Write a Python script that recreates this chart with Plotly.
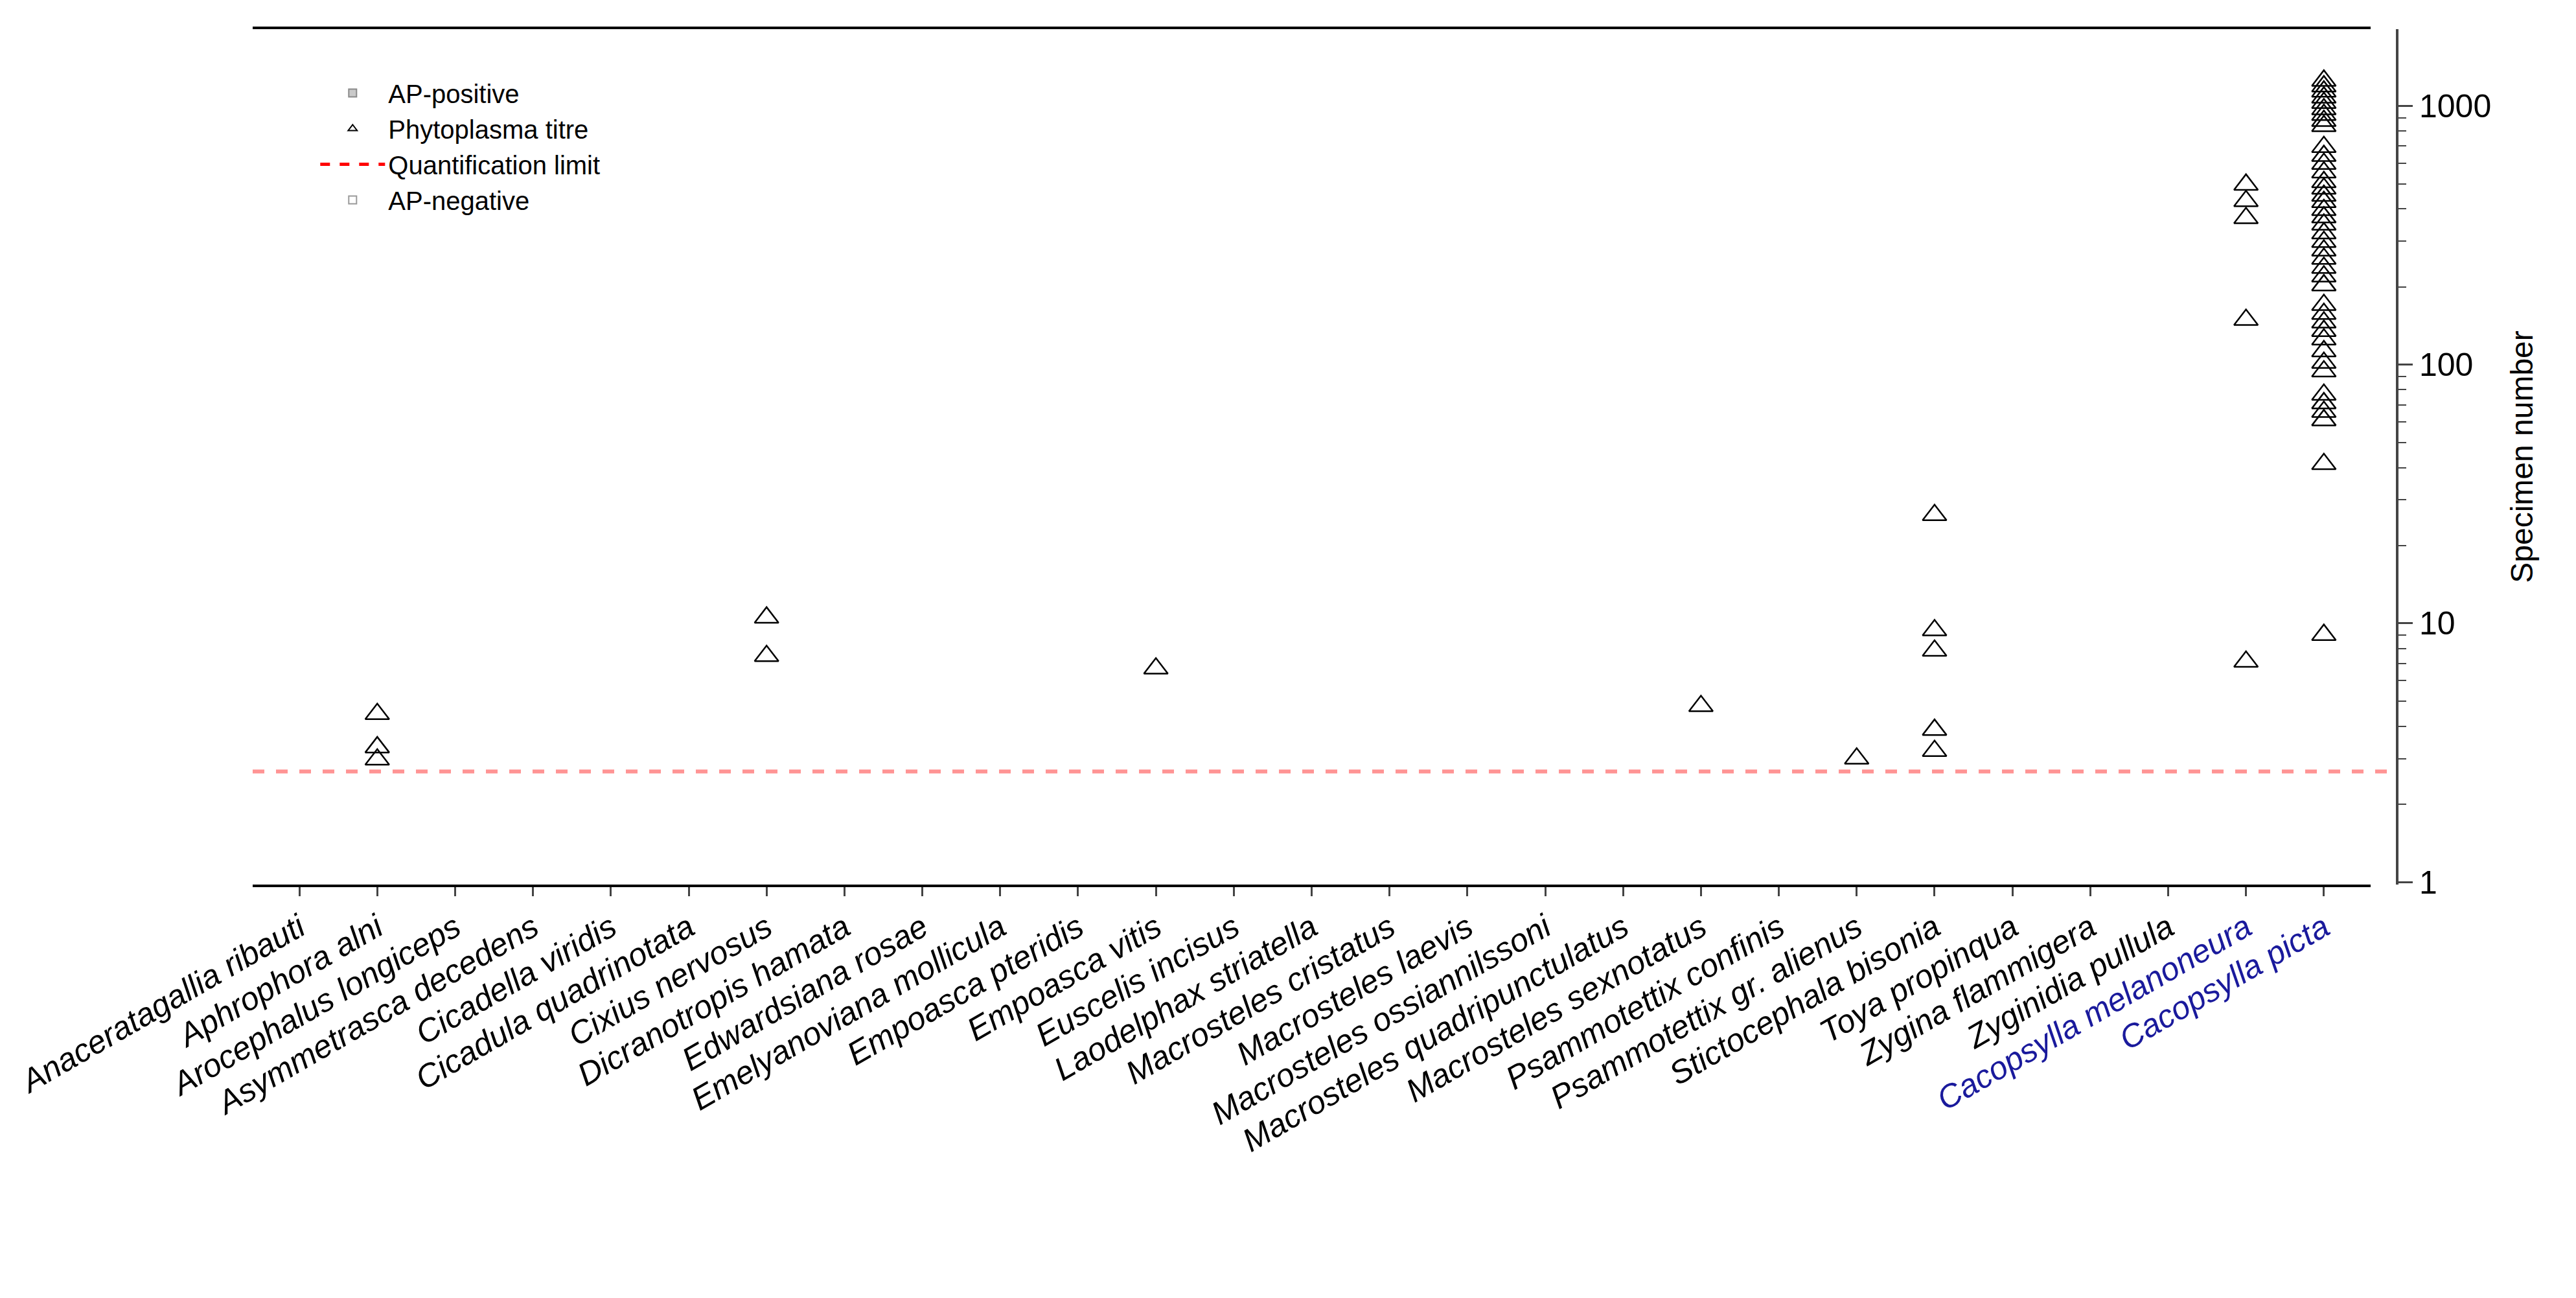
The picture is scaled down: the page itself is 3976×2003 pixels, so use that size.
import plotly.graph_objects as go

species = ["Anaceratagallia ribauti", "Aphrophora alni", "Arocephalus longiceps", "Asymmetrasca decedens",
           "Cicadella viridis", "Cicadula quadrinotata", "Cixius nervosus", "Dicranotropis hamata",
           "Edwardsiana rosae", "Emelyanoviana mollicula", "Empoasca pteridis", "Empoasca vitis",
           "Euscelis incisus", "Laodelphax striatella", "Macrosteles cristatus", "Macrosteles laevis",
           "Macrosteles ossiannilssoni", "Macrosteles quadripunctulatus", "Macrosteles sexnotatus",
           "Psammotettix confinis", "Psammotettix gr. alienus", "Stictocephala bisonia", "Toya propinqua",
           "Zygina flammigera", "Zyginidia pullula", "Cacopsylla melanoneura", "Cacopsylla picta"]
total_n = [15, 174, 17, 162, 20, 7, 52, 216, 177, 36, 8, 970, 8, 470, 95, 57, 67, 88, 280,
           230, 277, 135, 12, 21, 92, 210, 350]
positive_n = [None, 3, None, None, None, None, 2, None, None, None, None, 1, None, None, None, None,
              None, None, 1, None, 1, 5, None, None, None, 5, 63]
titre = {
    "Aphrophora alni": [7.2e3, 4.9e3, 4.25e3],
    "Cixius nervosus": [2.2e4, 1.41e4],
    "Empoasca vitis": [1.22e4],
    "Macrosteles sexnotatus": [7.9e3],
    "Psammotettix gr. alienus": [4.3e3],
    "Stictocephala bisonia": [7.2e4, 1.9e4, 1.5e4, 6.0e3, 4.7e3],
    "Cacopsylla melanoneura": [3.3e6, 2.73e6, 2.24e6, 6.9e5, 1.32e4],
    "Cacopsylla picta": [1.10e7, 1.03e7, 9.7e6, 9.05e6, 8.5e6, 7.9e6, 7.4e6, 6.9e6, 6.5e6, 5.1e6,
                         4.6e6, 4.2e6, 3.8e6, 3.4e6, 3.15e6, 2.9e6, 2.7e6, 2.46e6, 2.26e6, 2.08e6,
                         1.88e6, 1.7e6, 1.54e6, 1.4e6, 1.26e6, 1.14e6, 1.03e6, 8.2e5, 7.4e5, 6.7e5,
                         6.07e5, 5.5e5, 4.8e5, 4.2e5, 3.8e5, 2.9e5, 2.63e5, 2.38e5, 2.16e5, 1.3e5, 1.8e4],
}
quant_limit = 3.7e3
psyllids = ["Cacopsylla melanoneura", "Cacopsylla picta"]

tick_text = []
for s in species:
    col = "#1a1a9c" if s in psyllids else "black"
    tick_text.append(f"<span style='color:{col}'><i>{s}</i></span>")

fig = go.Figure()

# bars on the specimen axis (y2), drawn over the left-axis grid
fig.add_trace(go.Bar(x=species, y=total_n, yaxis="y2", name="AP-negative", width=0.74,
                     marker=dict(color="white", line=dict(color="#9a9a9a", width=4)),
                     legendrank=4))
fig.add_trace(go.Bar(x=species, y=positive_n, yaxis="y2", name="AP-positive", width=0.74,
                     marker=dict(color="#c9c9c9", line=dict(color="#8a8a8a", width=4)),
                     legendrank=1))

tx, ty = [], []
for s, vals in titre.items():
    tx += [s] * len(vals)
    ty += vals
# triangles on a hidden copy of the left axis, drawn on top of the bars
fig.add_trace(go.Scatter(x=tx, y=ty, yaxis="y3", mode="markers", name="Phytoplasma titre",
                         marker=dict(symbol="triangle-up-open", size=32, color="black",
                                     line=dict(width=2.5)),
                         legendrank=2))
fig.add_trace(go.Scatter(x=[None], y=[None], yaxis="y3", mode="lines", name="Quantification limit",
                         line=dict(color="red", dash="dash", width=6), legendrank=3))
fig.add_shape(type="line", xref="paper", x0=0, x1=1, yref="y3", y0=quant_limit, y1=quant_limit,
              line=dict(color="rgba(255,60,60,0.55)", dash="dash", width=6))

fig.update_layout(
    width=3976, height=2003,
    margin=dict(l=382, r=284, t=37, b=646),
    plot_bgcolor="white", paper_bgcolor="white",
    font=dict(family="Liberation Sans, Arial", size=48, color="black"),
    barmode="overlay", showlegend=True,
    legend=dict(x=0.03, y=0.95, xanchor="left", yanchor="top", font=dict(size=40),
                bgcolor="rgba(0,0,0,0)", traceorder="normal", itemwidth=100,
                itemsizing="constant"),
    xaxis=dict(domain=[0, 0.9876], tickvals=species, ticktext=tick_text, tickangle=-30,
               ticks="outside", ticklen=14, tickwidth=3, showline=True, linewidth=4,
               linecolor="black", mirror=True, tickfont=dict(size=50), range=[-0.6, 26.6]),
    yaxis=dict(type="log", range=[3, 7.3], tickvals=[1e3, 1e4, 1e5, 1e6, 1e7],
               ticktext=[f"1 x 10<sup>{k}</sup>" for k in range(3, 8)],
               ticks="outside", ticklen=22, tickwidth=3, showline=True, linewidth=4,
               linecolor="black", mirror=True, showgrid=True, gridcolor="#c8c8c8",
               griddash="dot", gridwidth=3, tickfont=dict(size=56),
               minor=dict(dtick="D1", ticks="outside", ticklen=12, tickwidth=2, showgrid=False),
               title=dict(text="Phytoplasma / Insect", font=dict(size=48), standoff=30)),
    yaxis2=dict(type="log", range=[-0.01, 3.297], overlaying="y", side="right", anchor="free",
                position=1.0, tickvals=[1, 10, 100, 1000], ticks="outside", ticklen=22,
                tickwidth=3, showline=True, linewidth=4, linecolor="#444", showgrid=False,
                minor=dict(dtick="D1", ticks="outside", ticklen=12, tickwidth=2, showgrid=False),
                tickfont=dict(size=50),
                title=dict(text="Specimen number", font=dict(size=48), standoff=30)),
    yaxis3=dict(type="log", range=[3, 7.3], overlaying="y", visible=False),
)

fig.write_html("out.html")
